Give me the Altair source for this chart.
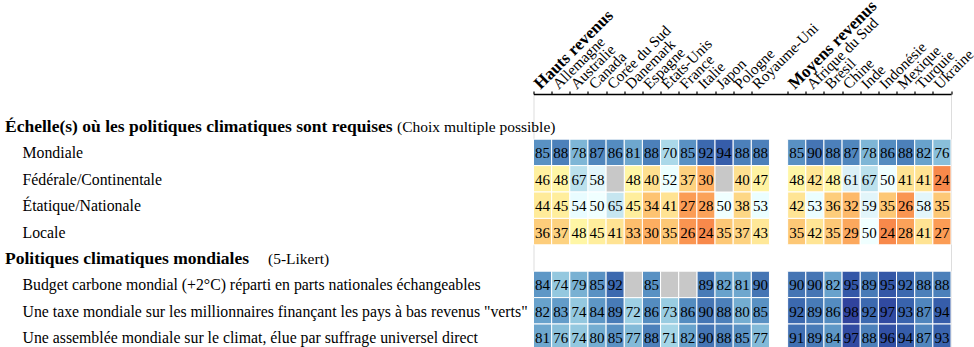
import altair as alt
import pandas as pd

# ---- data -------------------------------------------------------------
cols_high = ["Hauts revenus", "Allemagne", "Australie", "Canada", "Corée du Sud",
             "Danemark", "Espagne", "États-Unis", "France", "Italie", "Japon",
             "Pologne", "Royaume-Uni"]
cols_mid = ["Moyens revenus", "Afrique du Sud", "Brésil", "Chine", "Inde",
            "Indonésie", "Mexique", "Turquie", "Ukraine"]

row_labels = [
    "Échelle(s) où les politiques climatiques sont requises",
    "Mondiale",
    "Fédérale/Continentale",
    "Étatique/Nationale",
    "Locale",
    "Politiques climatiques mondiales",
    "Budget carbone mondial (+2°C) réparti en parts nationales échangeables",
    "Une taxe mondiale sur les millionnaires finançant les pays à bas revenus \"verts\"",
    "Une assemblée mondiale sur le climat, élue par suffrage universel direct",
]
header_notes = ["(Choix multiple possible)", "(5-Likert)"]
header_rows = [0, 5]

mondiale = [85, 88, 78, 87, 86, 81, 88, 70, 85, 92, 94, 88, 88,
            85, 90, 88, 87, 78, 86, 88, 82, 76]
federale = [46, 48, 67, 58, None, 48, 40, 52, 37, 30, None, 40, 47,
            48, 42, 48, 61, 67, 50, 41, 41, 24]
etatique = [44, 45, 54, 50, 65, 45, 34, 41, 27, 28, 50, 38, 53,
            42, 53, 36, 32, 59, 35, 26, 58, 35]
locale = [36, 37, 48, 45, 41, 33, 30, 35, 26, 24, 35, 37, 43,
          35, 42, 35, 29, 50, 24, 28, 41, 27]
budget = [84, 74, 79, 85, 92, None, 85, None, None, 89, 82, 81, 90,
          90, 90, 82, 95, 89, 95, 92, 88, 88]
taxe = [82, 83, 74, 84, 89, 72, 86, 73, 86, 90, 88, 80, 85,
        92, 89, 86, 98, 92, 97, 93, 87, 94]
assemblee = [81, 76, 74, 80, 85, 77, 88, 71, 82, 90, 88, 85, 77,
             91, 89, 84, 97, 88, 96, 94, 87, 93]

series = {1: mondiale, 2: federale, 3: etatique, 4: locale,
          6: budget, 7: taxe, 8: assemblee}

# column positions: high-income block, one empty slot, middle-income block
col_names = cols_high + cols_mid
col_pos = list(range(len(cols_high))) + [len(cols_high) + 1 + i for i in range(len(cols_mid))]
n_slots = len(cols_high) + 1 + len(cols_mid)

records = []
for r, vals in series.items():
    for c, v in zip(col_pos, vals):
        records.append({"x0": c, "x1": c + 1, "xc": c + 0.5,
                        "y0": r, "y1": r + 1, "yc": r + 0.5,
                        "v": v, "miss": v is None})
df = pd.DataFrame(records)

lab = pd.DataFrame({"label": row_labels, "yc": [i + 0.5 for i in range(len(row_labels))],
                    "head": [i in header_rows for i in range(len(row_labels))]})
notes = pd.DataFrame({"label": header_notes, "yc": [r + 0.5 for r in header_rows]})

# ---- scales -----------------------------------------------------------
FONT = "Liberation Serif"
label_map = {p: n for p, n in zip(col_pos, col_names)}
label_expr = "{" + ",".join(f'"{k}":"{v}"' for k, v in label_map.items()) + "}[datum.value] || ''"
tick_vals = col_pos + [n_slots]
group_test = "datum.value == 0 || datum.value == 14"

xs = alt.Scale(domain=[0, n_slots], nice=False, zero=False)
ys = alt.Scale(domain=[-0.712, 8.871], reverse=True, nice=False, zero=False)

color_scale = alt.Scale(
    domain=[0, 10, 20, 30, 40, 50, 60, 70, 80, 90, 100],
    range=["#a50026", "#d73027", "#f46d43", "#fdae61", "#fee090", "#ffffff",
           "#e0f3f8", "#abd9e9", "#74add1", "#4575b4", "#313695"],
)

xaxis = alt.Axis(
    orient="top", values=tick_vals, tickCount=100, labelExpr=label_expr, title=None,
    grid=False, labelAngle=315, labelAlign="left", labelBaseline="middle",
    labelPadding=5, labelOffset=3, tickSize=3, tickColor="black", tickWidth=1.2,
    domainColor="black", domainWidth=1.3, labelFont=FONT,
    labelFontSize={"condition": {"test": group_test, "value": 17}, "value": 15.2},
    labelColor="black", labelOverlap=False, labelBound=False, labelFlush=False,
    labelFontWeight={"condition": {"test": group_test, "value": "bold"},
                     "value": "normal"},
)

base = alt.Chart(df)

cells = base.transform_filter("datum.v != null").mark_rect(
    stroke="white", strokeWidth=1
).encode(
    x=alt.X("x0:Q", scale=xs, axis=xaxis),
    x2="x1:Q",
    y=alt.Y("y0:Q", scale=ys, axis=None),
    y2="y1:Q",
    color=alt.Color("v:Q", scale=color_scale, legend=None),
)

missing = base.transform_filter("datum.v == null").mark_rect(
    stroke="white", strokeWidth=1, color="#c8c8c8"
).encode(x="x0:Q", x2="x1:Q", y="y0:Q", y2="y1:Q")

nums = base.transform_filter("datum.v != null").mark_text(
    font=FONT, fontSize=15, color="black", baseline="middle", align="center", dy=1
).encode(x="xc:Q", y="yc:Q", text="v:Q")

heads = alt.Chart(lab).transform_filter("datum.head").mark_text(
    font=FONT, fontSize=17.5, fontWeight="bold", color="black", align="left",
    baseline="middle", dy=1
).encode(x=alt.value(-528.5), y="yc:Q", text="label:N")

items = alt.Chart(lab).transform_filter("!datum.head").mark_text(
    font=FONT, fontSize=15.8, color="black", align="left", baseline="middle", dy=1
).encode(x=alt.value(-511), y="yc:Q", text="label:N")

note_x = [397 - 533.5, 268 - 533.5]
note_layers = [
    alt.Chart(notes.iloc[[i]]).mark_text(
        font=FONT, fontSize=15.5, color="black", align="left", baseline="middle", dy=1
    ).encode(x=alt.value(note_x[i]), y="yc:Q", text="label:N")
    for i in range(len(notes))
]

chart = alt.layer(cells, missing, nums, heads, items, *note_layers).properties(
    width=417.5, height=253,
    autosize=alt.AutoSizeParams(type="none"),
    padding={"left": 533.5, "top": 94, "right": 23, "bottom": 0},
).configure_view(stroke=None).configure(background="white")

chart.save("out.html", embed_options={"renderer": "svg", "actions": False})
